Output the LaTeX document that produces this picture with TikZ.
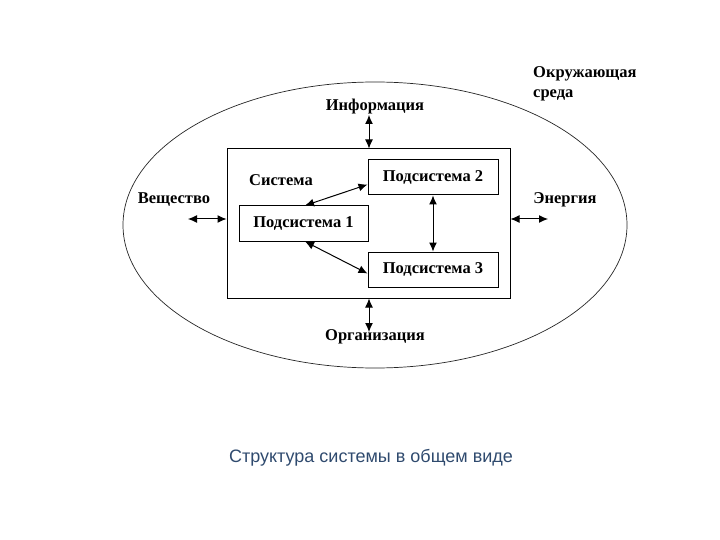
\documentclass[tikz,border=0pt]{standalone}
\usepackage{fontspec}
\setmainfont{Liberation Serif}
\setsansfont{Liberation Sans}
\usetikzlibrary{arrows.meta,calc}
\definecolor{capblue}{HTML}{2F4A6E}
\begin{document}
\begin{tikzpicture}[x=1pt,y=-1pt,
  lbl/.style={inner sep=0pt,font=\bfseries\fontsize{16.5}{19}\selectfont},
  sub/.style={draw,line width=1pt,minimum width=129pt,minimum height=35pt,inner sep=0pt,font=\bfseries\fontsize{16.5}{19}\selectfont},
  biarrow/.style={line width=1pt,{Latex[length=9pt,width=8pt]}-{Latex[length=9pt,width=8pt]}}]
\useasboundingbox (0,0) rectangle (720,540);
\draw[line width=0.7pt,black!85] (375,225) ellipse [x radius=252,y radius=143];
\node[draw,line width=1pt,minimum width=283pt,minimum height=149pt,inner sep=0pt] (S) at (368.5,223.5) {};
\node[sub] (P1) at (303.5,223.5) {Подсистема 1};
\node[sub,minimum width=130pt] (P2) at (433,177.5) {Подсистема 2};
\node[sub,minimum width=130pt] (P3) at (433,269.5) {Подсистема 3};
\node[lbl] (sys) at (281,180) {Система};
\node[lbl] (info) at (375,107) {Информация};
\node[lbl] (org) at (375,337) {Организация};
\node[lbl] (vesh) at (174,200) {Вещество};
\node[lbl] (en) at (565,200) {Энергия};
\node[lbl,anchor=north west,align=left,font=\bfseries\fontsize{16.5}{20}\selectfont] (env) at (533,66) {Окружающая\\среда};
\node[inner sep=0pt,font=\sffamily\fontsize{18}{20}\selectfont,text=capblue] (cap) at (371,458) {Структура системы в общем виде};
\coordinate (iend) at (369,115);
\coordinate (oend) at (369,332);
\coordinate (vend) at (188,219);
\coordinate (eend) at (548,219);
\draw[biarrow] (iend) -- (S.north -| iend);
\draw[biarrow] (S.south -| oend) -- (oend);
\draw[biarrow] (vend) -- (S.west |- vend);
\draw[biarrow] (S.east |- eend) -- (eend);
\draw[biarrow] ([xshift=1.5pt]P1.north) -- ([yshift=-7pt]P2.west);
\draw[biarrow] ([xshift=1.5pt]P1.south) -- ([yshift=-4pt]P3.west);
\draw[biarrow] (P2.south) -- (P3.north);
\end{tikzpicture}
\end{document}
